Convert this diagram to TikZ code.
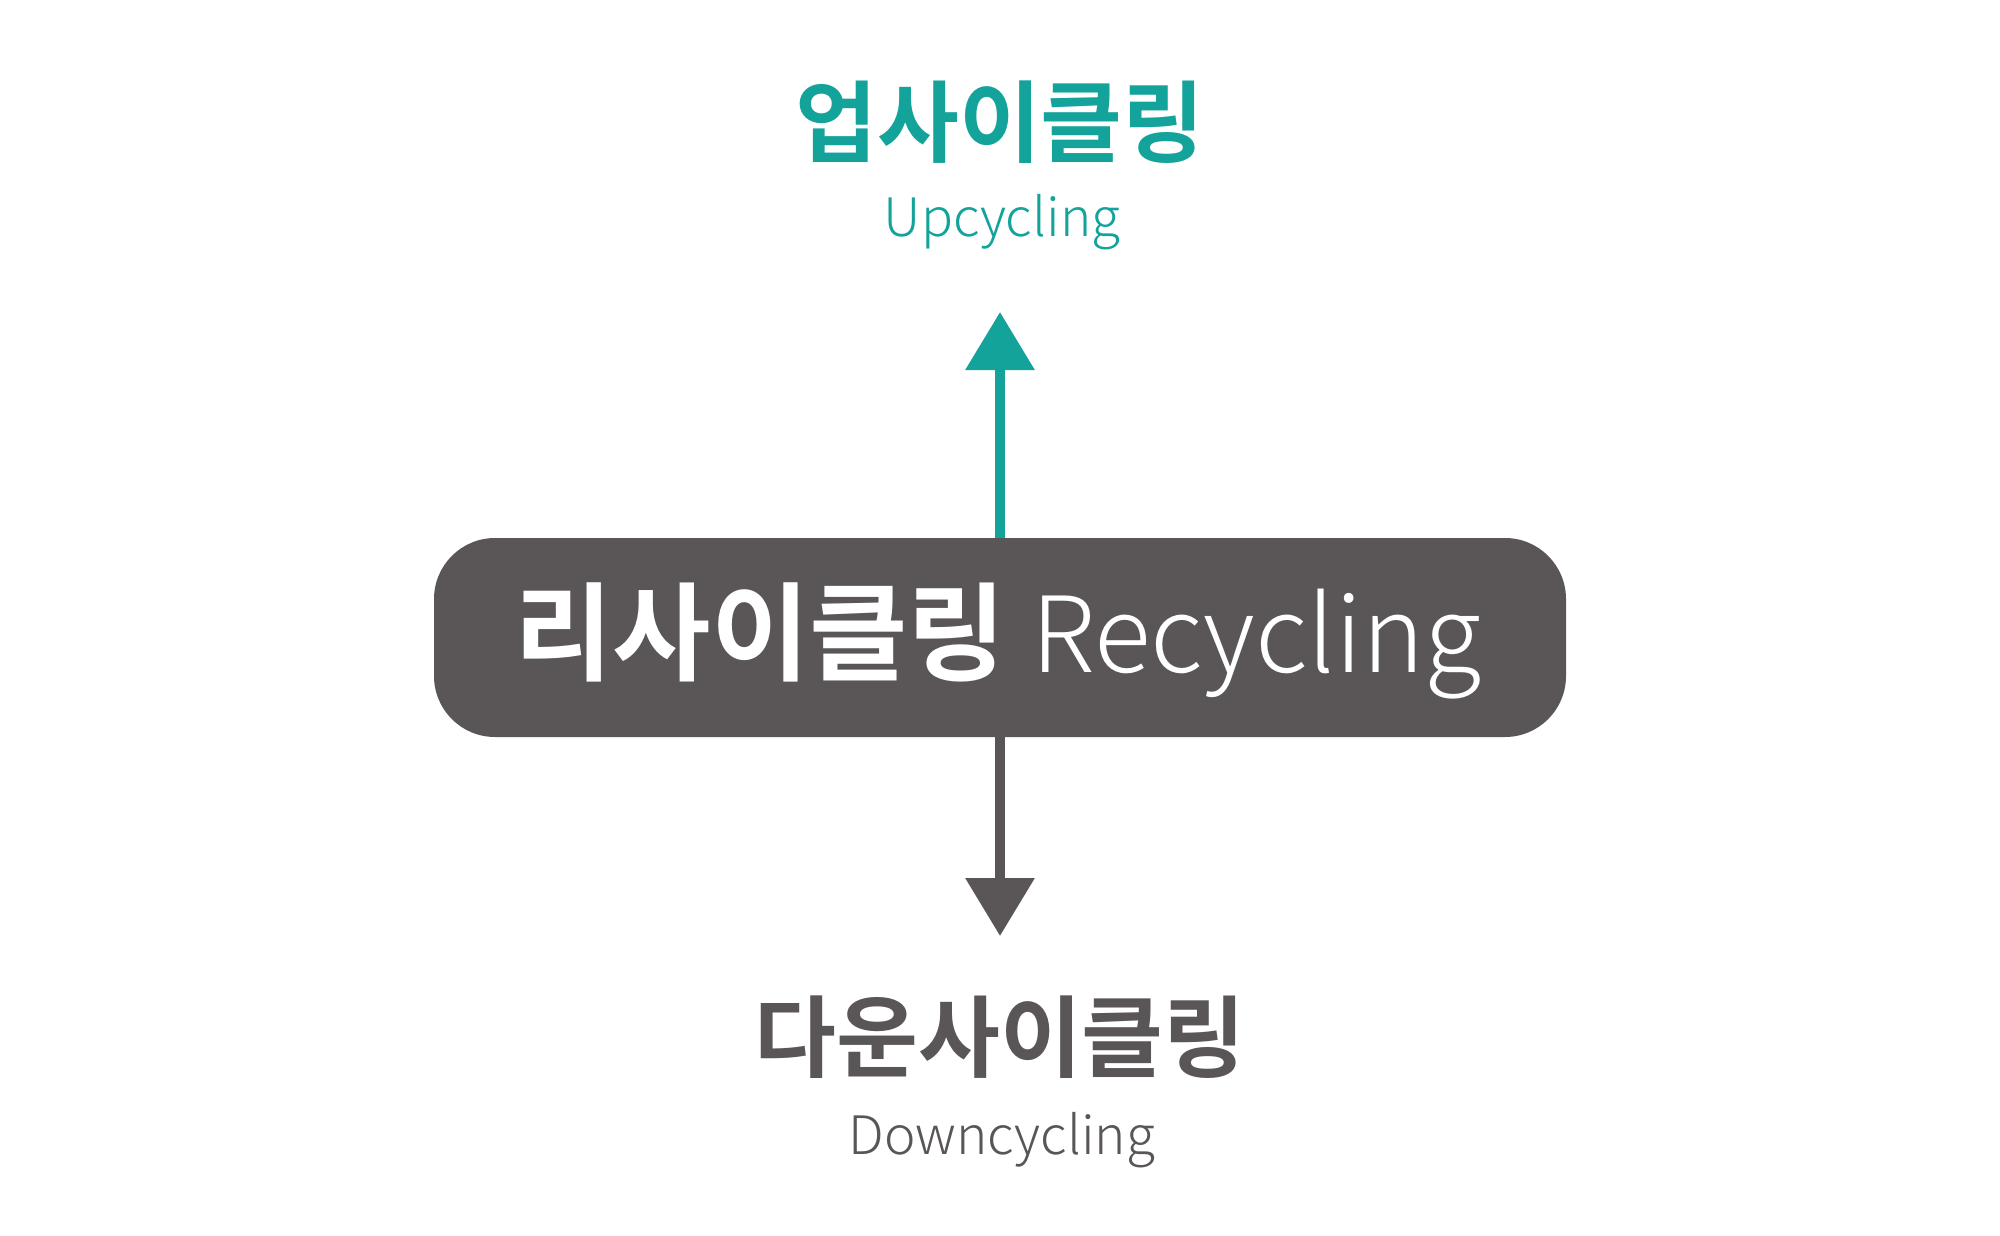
\documentclass[tikz,border=0pt]{standalone}
\usepackage{fontspec}
\usetikzlibrary{arrows.meta}
\newfontfamily\krbold{Noto Sans CJK KR Bold}
\newfontfamily\krlight{Noto Sans CJK KR Light}
\definecolor{teal}{HTML}{14A39A}
\definecolor{dgray}{HTML}{5A5657}
\tikzset{
  krtitle/.style={font=\krbold\fontsize{89}{89}\selectfont, inner sep=0pt, anchor=center},
  ensub/.style={font=\krlight\fontsize{53}{53}\selectfont, inner sep=0pt, anchor=base},
  mainbox/.style={fill=dgray, rounded corners=61pt, minimum width=1132pt, minimum height=199pt, inner sep=0pt},
  boxtext/.style={text=white, inner sep=0pt, anchor=base},
  flow/.style={line width=10pt, -{Triangle[width=67pt,length=58pt]}},
}
\begin{document}
\begin{tikzpicture}[x=1pt,y=-1pt]
\useasboundingbox (0,0) rectangle (2000,1236);
\node[krtitle, text=teal] (upk) at (1000,122) {업사이클링};
\node[ensub, text=teal] (upe) at (1002,236) {Upcycling};
\node[mainbox] (rec) at (1000,637.5) {};
\node[boxtext] (rect) at (998,672) {{\krbold\fontsize{107}{107}\selectfont 리사이클링}\hspace{25pt}{\krlight\fontsize{105}{105}\selectfont Recycling}};
\coordinate (uptip) at (1000,312);
\coordinate (downtip) at (1000,936);
\draw[flow, teal] (rec.north) -- (uptip);
\draw[flow, dgray] (rec.south) -- (downtip);
\node[krtitle, text=dgray] (downk) at (1000,1037.5) {다운사이클링};
\node[ensub, text=dgray] (downe) at (1002,1154) {Downcycling};
\end{tikzpicture}
\end{document}
